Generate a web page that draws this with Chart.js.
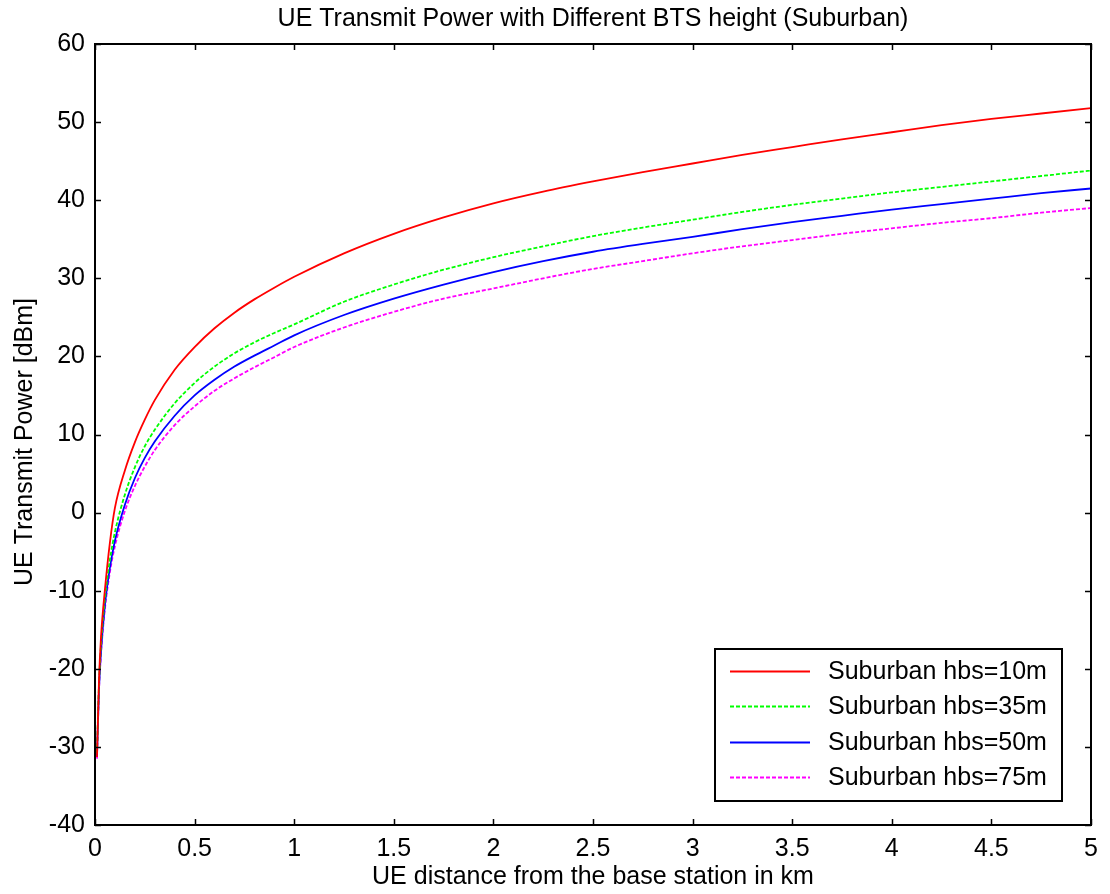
<!DOCTYPE html>
<html lang="en">
<head>
    <meta charset="UTF-8">
    <title>UE Transmit Power</title>
    <script src="https://cdn.jsdelivr.net/npm/chart.js"></script>
    <style>
        html, body { margin: 0; padding: 0; background: #fff; }
        #wrap { width: 1110px; height: 894px; }
    </style>
</head>
<body>
    <div id="wrap"><canvas id="powerChart"></canvas></div>

    <script>
        // distance from base station [km]
        const distKm = [0.01, 0.02, 0.03, 0.05, 0.075, 0.1, 0.15, 0.2, 0.25, 0.3, 0.4, 0.5, 0.6, 0.7, 0.8, 0.9, 1.0,
            1.25, 1.5, 1.75, 2.0, 2.25, 2.5, 2.75, 3.0, 3.25, 3.5, 3.75, 4.0, 4.25, 4.5, 4.75, 5.0];

        // UE transmit power [dBm] for each BTS height
        const hbs10 = [-31.3, -21.5, -16, -9.8, -3.8, 0.6, 5.4, 9.0, 11.9, 14.4, 18.3, 21.2, 23.6, 25.6, 27.3, 28.8, 30.2,
            33.2, 35.7, 37.8, 39.6, 41.1, 42.4, 43.6, 44.7, 45.8, 46.8, 47.8, 48.7, 49.6, 50.4, 51.1, 51.8];
        const hbs35 = [-30.8, -22, -17, -11, -6, -2.5, 2.3, 5.8, 8.5, 10.6, 14.0, 16.6, 18.7, 20.4, 21.8, 23.0, 24.1,
            27.0, 29.2, 31.1, 32.7, 34.1, 35.4, 36.5, 37.5, 38.5, 39.4, 40.2, 41.0, 41.7, 42.4, 43.1, 43.8];
        const hbs50 = [-31.1, -22.6, -17.8, -11.8, -7, -3.6, 1.0, 4.4, 7.0, 9.1, 12.4, 15.0, 17.0, 18.7, 20.1, 21.4, 22.7,
            25.3, 27.4, 29.2, 30.8, 32.2, 33.4, 34.4, 35.3, 36.3, 37.2, 38.0, 38.8, 39.5, 40.2, 40.9, 41.5];
        const hbs75 = [-31.5, -22.8, -18.2, -12.3, -7.6, -4.3, 0.2, 3.4, 5.9, 8.0, 11.2, 13.6, 15.6, 17.2, 18.6, 19.9, 21.2,
            23.7, 25.7, 27.4, 28.7, 30.0, 31.2, 32.2, 33.2, 34.1, 34.9, 35.7, 36.4, 37.1, 37.7, 38.4, 39.0];

        const seriesLabels = ['Suburban hbs=10m', 'Suburban hbs=35m', 'Suburban hbs=50m', 'Suburban hbs=75m'];
        const xTicks = [0, 0.5, 1, 1.5, 2, 2.5, 3, 3.5, 4, 4.5, 5];
        const yTicks = [-40, -30, -20, -10, 0, 10, 20, 30, 40, 50, 60];

        const FONT = '"Liberation Sans", Arial, sans-serif';
        const FSIZE = 25;

        function toPoints(ys) {
            return distKm.map((d, i) => ({ x: d, y: ys[i] }));
        }

        const styles = [
            { color: '#ff0000', dash: [] },
            { color: '#00ff00', dash: [4, 2] },
            { color: '#0000ff', dash: [] },
            { color: '#ff00ff', dash: [4, 2] }
        ];

        const datasets = [hbs10, hbs35, hbs50, hbs75].map((ys, i) => ({
            label: seriesLabels[i],
            data: toPoints(ys),
            borderColor: styles[i].color,
            borderDash: styles[i].dash,
            borderWidth: 1.8,
            pointRadius: 0,
            showLine: true,
            fill: false,
            cubicInterpolationMode: 'monotone'
        }));

        // frame, inward ticks, titles and boxed legend (matlab look)
        const matlabFrame = {
            id: 'matlabFrame',
            afterDatasetsDraw(chart) {
                const ctx = chart.ctx;
                const a = chart.chartArea;
                const xs = chart.scales.x, ys = chart.scales.y;
                ctx.save();
                ctx.strokeStyle = '#000';
                ctx.lineWidth = 2;
                ctx.strokeRect(a.left, a.top, a.right - a.left, a.bottom - a.top);

                ctx.lineWidth = 1.5;
                const t = 6;
                ctx.beginPath();
                xTicks.forEach(v => {
                    const px = Math.round(xs.getPixelForValue(v)) + 0.5;
                    ctx.moveTo(px, a.bottom); ctx.lineTo(px, a.bottom - t);
                    ctx.moveTo(px, a.top); ctx.lineTo(px, a.top + t);
                });
                yTicks.forEach(v => {
                    const py = Math.round(ys.getPixelForValue(v)) + 0.5;
                    ctx.moveTo(a.left, py); ctx.lineTo(a.left + t, py);
                    ctx.moveTo(a.right, py); ctx.lineTo(a.right - t, py);
                });
                ctx.stroke();

                ctx.fillStyle = '#000';
                ctx.font = FSIZE + 'px ' + FONT;
                ctx.textAlign = 'center';
                ctx.textBaseline = 'middle';
                ctx.fillText('UE Transmit Power with Different BTS height (Suburban)', (a.left + a.right) / 2, 19);

                // y axis title
                ctx.save();
                ctx.translate(25, 442);
                ctx.rotate(-Math.PI / 2);
                ctx.fillText('UE Transmit Power [dBm]', 0, 0);
                ctx.restore();

                // legend box
                const box = { left: 715, top: 649, right: 1062, bottom: 801 };
                ctx.fillStyle = '#fff';
                ctx.fillRect(box.left, box.top, box.right - box.left, box.bottom - box.top);
                ctx.lineWidth = 2;
                ctx.strokeRect(box.left, box.top, box.right - box.left, box.bottom - box.top);
                const rows = [671, 706, 742, 777];
                chart.data.datasets.forEach((ds, i) => {
                    ctx.strokeStyle = ds.borderColor;
                    ctx.lineWidth = 1.8;
                    ctx.setLineDash(ds.borderDash);
                    ctx.beginPath();
                    ctx.moveTo(730, rows[i] + 0.5);
                    ctx.lineTo(810, rows[i] + 0.5);
                    ctx.stroke();
                    ctx.setLineDash([]);
                    ctx.fillStyle = '#000';
                    ctx.textAlign = 'left';
                    ctx.fillText(ds.label, 828, rows[i] + 1);
                });
                ctx.restore();
            }
        };

        const ctx = document.getElementById('powerChart').getContext('2d');
        new Chart(ctx, {
            type: 'scatter',
            data: { datasets: datasets },
            plugins: [matlabFrame],
            options: {
                responsive: true,
                maintainAspectRatio: false,
                animation: false,
                layout: { padding: { top: 44, right: 19, left: 0, bottom: 0 } },
                plugins: {
                    legend: { display: false },
                    tooltip: { enabled: false },
                    title: { display: false }
                },
                scales: {
                    x: {
                        type: 'linear',
                        min: 0,
                        max: 5,
                        afterBuildTicks: s => { s.ticks = xTicks.map(v => ({ value: v })); },
                        afterFit: s => { s.height = 69; },
                        grid: { display: false, drawTicks: false },
                        border: { display: false },
                        ticks: {
                            color: '#000',
                            padding: 9,
                            maxRotation: 0,
                            font: { family: FONT, size: FSIZE },
                            callback: v => String(v)
                        },
                        title: {
                            display: true,
                            text: 'UE distance from the base station in km',
                            color: '#000',
                            font: { family: FONT, size: FSIZE },
                            padding: { top: 2, bottom: 2 }
                        }
                    },
                    y: {
                        type: 'linear',
                        min: -40,
                        max: 60,
                        afterBuildTicks: s => { s.ticks = yTicks.map(v => ({ value: v })); },
                        afterFit: s => { s.width = 95; },
                        grid: { display: false, drawTicks: false },
                        border: { display: false },
                        ticks: {
                            color: '#000',
                            padding: 10,
                            font: { family: FONT, size: FSIZE },
                            callback: v => String(v)
                        }
                    }
                }
            }
        });
    </script>
</body>
</html>
